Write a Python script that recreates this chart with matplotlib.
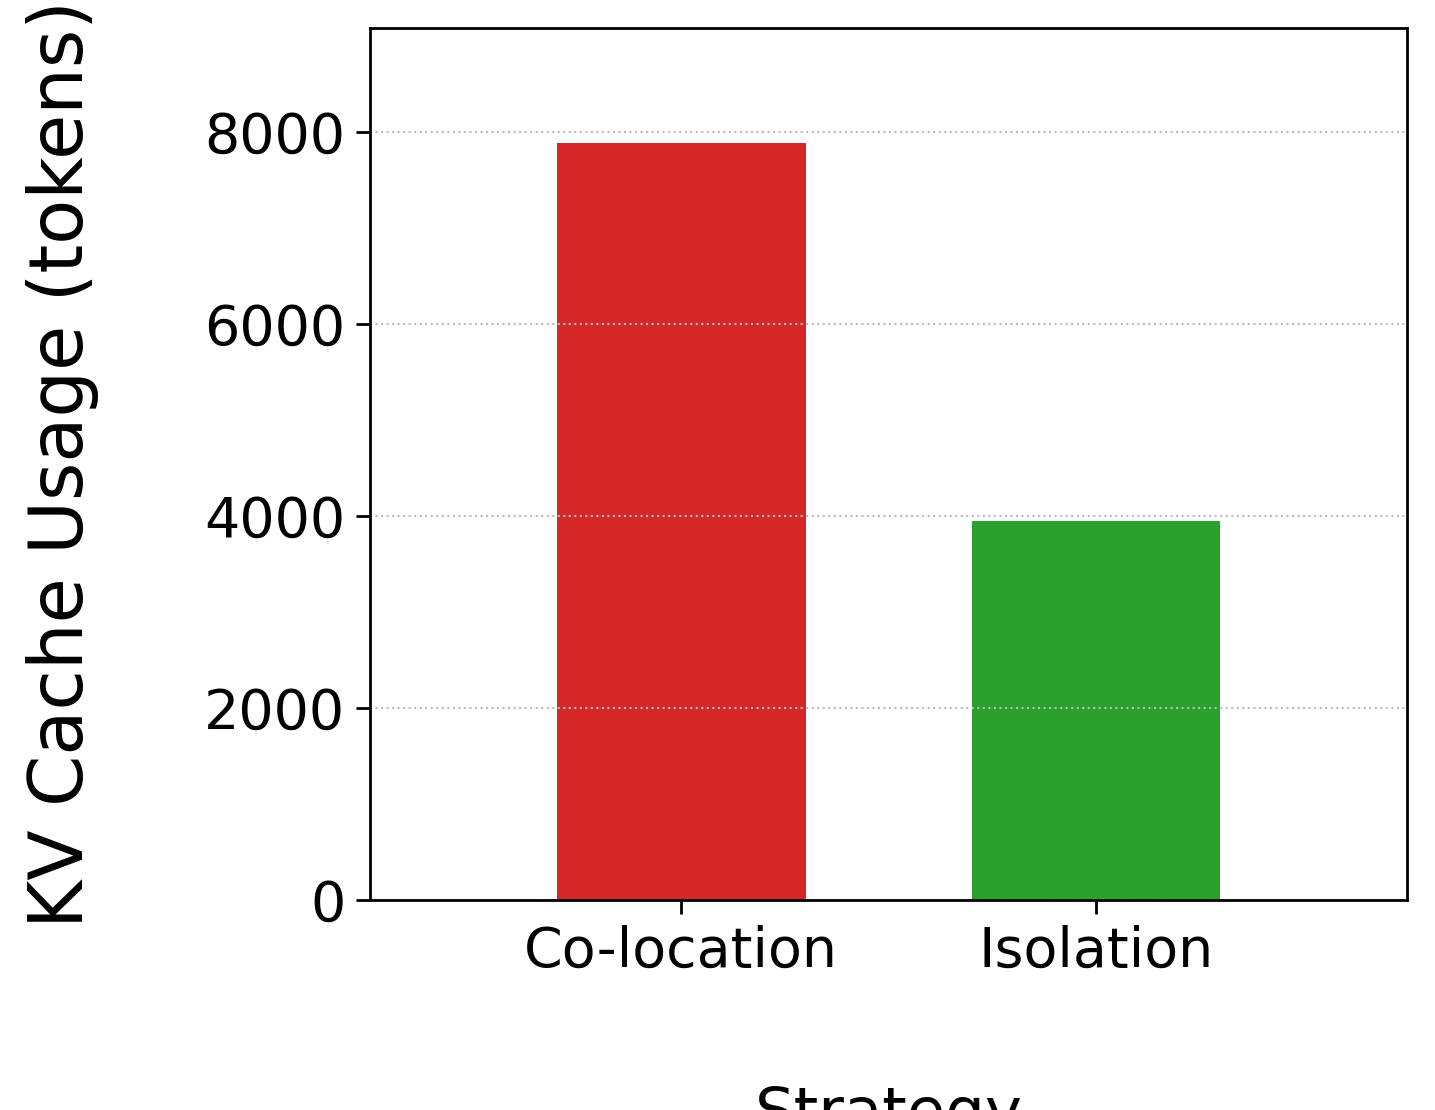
import matplotlib
matplotlib.use("Agg")
import matplotlib.pyplot as plt

strategies = ["Co-location", "Isolation"]
kv_usage = [7885, 3950]
bar_colors = ["#d62728", "#2ca02c"]

fig = plt.figure(figsize=(14.35, 11.1), dpi=100)
ax = fig.add_axes([0.258, 0.189, 0.7225, 0.7858])

ax.bar(strategies, kv_usage, width=0.6, color=bar_colors)

ax.set_xlim(-0.75, 1.75)
ax.set_ylim(0, 9083)
ax.set_yticks([0, 2000, 4000, 6000, 8000])
ax.yaxis.grid(True, linestyle=":", color="#bbbbbb", linewidth=1.5)

ax.tick_params(axis="both", labelsize=40, length=10, width=2, pad=8)
for s in ax.spines.values():
    s.set_linewidth(2)

ax.set_ylabel("KV Cache Usage (tokens)", fontsize=53)
ax.yaxis.set_label_coords(-0.262, 0.5)
ax.set_xlabel("Strategy", fontsize=45, va="top")
ax.xaxis.set_label_coords(0.5, -0.212)

fig.savefig("out.png", dpi=100)
